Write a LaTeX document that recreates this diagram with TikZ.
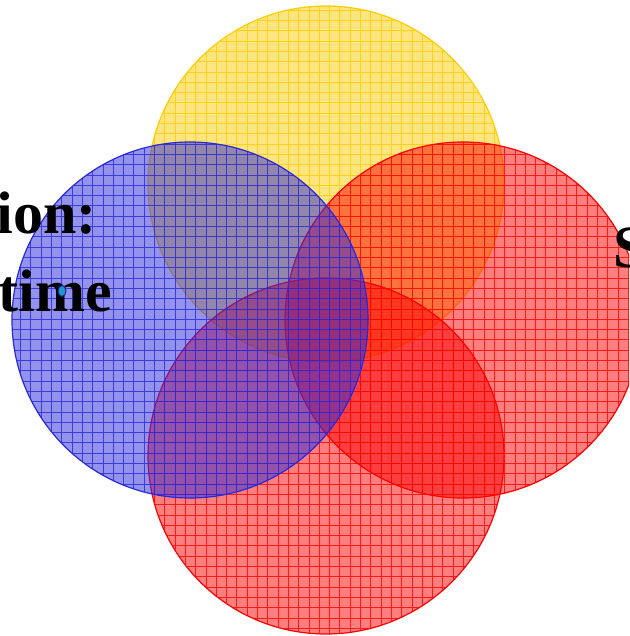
\documentclass[tikz,border=0pt]{standalone}
\usepackage{fontspec}
\setmainfont{Liberation Serif}
\usepackage{xcolor}
\definecolor{sunyellow}{HTML}{FFCC00}
\definecolor{vennred}{HTML}{FF0000}
\definecolor{vennblue}{HTML}{2828DC}
\definecolor{dotteal}{HTML}{1E96C8}
\tikzset{
  vennfill/.style={fill opacity=0.5},
  venngrid/.style={line width=0.5pt, opacity=0.8, step=5.15pt},
  bigword/.style={font=\bfseries\fontsize{30}{36}\selectfont, anchor=base west, inner sep=0pt}
}

\begin{document}
\begin{tikzpicture}[x=0.5pt, y=-0.5pt]
    \useasboundingbox (0,0) rectangle (629,636);
    \clip (0,0) rectangle (629,636);
    % Circles: yellow, right red, bottom red, blue on top
    \foreach \cx/\cy/\col in {326/184/sunyellow, 463/320/vennred, 326/456/vennred, 190/320/vennblue} {
        \begin{scope}
            \clip (\cx,\cy) circle[radius=178];
            \fill[\col, vennfill] (\cx,\cy) circle[radius=178];
            \draw[\col, venngrid] (\cx-180,\cy-180) grid (\cx+180,\cy+180);
        \end{scope}
        \draw[\col, line width=0.6pt] (\cx,\cy) circle[radius=178];
    }
    % Labels (cut at the edges)
    \node[bigword] (lblA) at (-4,234) {ion:};
    \node[bigword] (lblB) at (-2,311) {time};
    \node[bigword] (lblC) at (613,267) {S};
    % Dot
    \fill[dotteal, draw=vennblue!70!black, line width=0.5pt] (62,291) ellipse[x radius=4, y radius=5.5];
\end{tikzpicture}
\end{document}
